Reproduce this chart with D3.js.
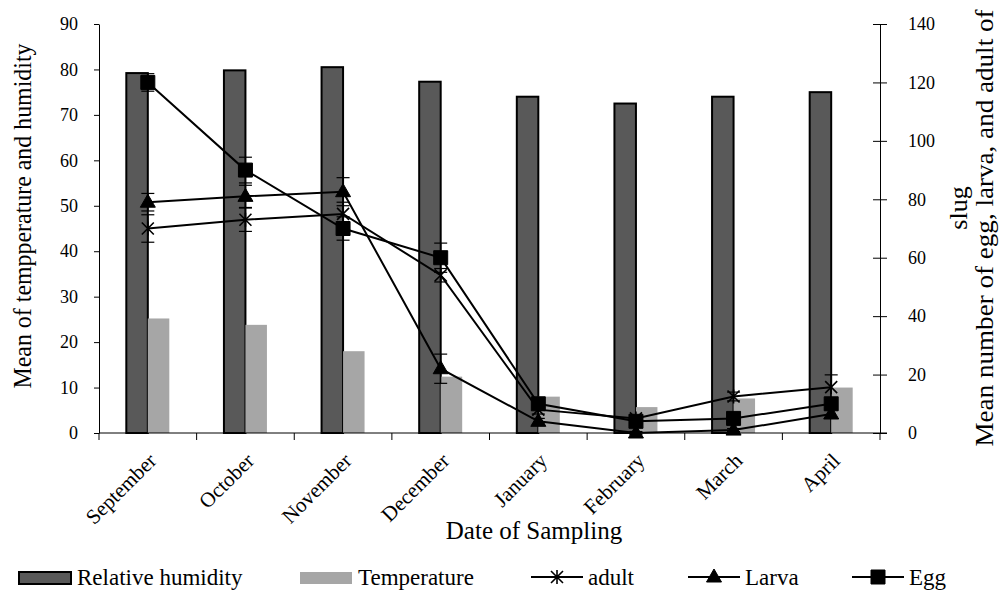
<!DOCTYPE html>
<html>
<head>
<meta charset="utf-8">
<script src="https://cdn.jsdelivr.net/npm/d3@7"></script>
<style>
  body { margin: 0; background: #fff; }
</style>
</head>
<body>
<svg id="chart" width="1000" height="592"></svg>
<script>
// values
var months = ["September", "October", "November", "December", "January", "February", "March", "April"];
var humidity = [79.2, 79.8, 80.5, 77.3, 74.0, 72.5, 74.0, 75.0];
var temperature = [25.2, 23.8, 18.0, 12.4, 8.0, 5.7, 7.6, 10.0];
var adult = [70, 73, 75, 54, 8, 5, 12.5, 15.7];
var adultErr = [4.7, 4, 4, 2.3, 1.5, 1, 1.5, 4.2];
var larva = [79, 81, 82.6, 22, 4, 0, 1, 6.5];
var larvaErr = [3, 3.8, 4.8, 5, 1, 0.5, 0.5, 1.5];
var egg = [120, 90, 70, 60, 10, 4, 5, 10];
var eggErr = [3, 4.4, 4, 5, 1, 1, 1, 1.5];
var leftTicks = [0, 10, 20, 30, 40, 50, 60, 70, 80, 90];
var rightTicks = [0, 20, 40, 60, 80, 100, 120, 140];

var FONT = "Liberation Serif";

var svg = d3.select("#chart");

var x = d3.scaleBand().domain(months).range([99, 880]).padding(0);
var barW = 21.5;
var yL = d3.scaleLinear().domain([0, 90]).range([433, 24]);
var yR = d3.scaleLinear().domain([0, 140]).range([433, 24]);

function cx(m) { return x(m) + x.bandwidth() / 2; }

// bars
svg.append("g").selectAll("rect")
    .data(months)
  .enter().append("rect")
    .attr("x", function(m) { return cx(m) - barW; })
    .attr("y", function(m, i) { return yL(humidity[i]); })
    .attr("width", barW)
    .attr("height", function(m, i) { return yL(0) - yL(humidity[i]); })
    .attr("fill", "#595959")
    .attr("stroke", "#000")
    .attr("stroke-width", 2);

svg.append("g").selectAll("rect")
    .data(months)
  .enter().append("rect")
    .attr("x", function(m) { return cx(m); })
    .attr("y", function(m, i) { return yL(temperature[i]); })
    .attr("width", barW)
    .attr("height", function(m, i) { return yL(0) - yL(temperature[i]); })
    .attr("fill", "#a6a6a6");

// left axis
var gL = svg.append("g").attr("transform", "translate(99,0)")
    .call(d3.axisLeft(yL).tickValues(leftTicks).tickSize(5).tickSizeOuter(0).tickPadding(16));

// right axis, ticks cross the line
var gR = svg.append("g").attr("transform", "translate(880,0)")
    .call(d3.axisRight(yR).tickValues(rightTicks).tickSize(7).tickSizeOuter(0).tickPadding(21));
gR.selectAll(".tick line").attr("x1", -7).attr("x2", 7);

svg.selectAll(".domain").attr("stroke", "#000");
svg.selectAll(".tick line").attr("stroke", "#000");
svg.selectAll(".tick text").style("font-family", FONT).style("font-size", "18px");

// x axis
var gx = svg.append("g");
gx.append("line")
    .attr("x1", 99).attr("x2", 887).attr("y1", 433).attr("y2", 433)
    .attr("stroke", "#000");
gx.selectAll("line.tk")
    .data(months.concat(["end"]))
  .enter().append("line")
    .attr("class", "tk")
    .attr("x1", function(m, i) { return i < months.length ? x(m) : x.range()[1]; })
    .attr("x2", function(m, i) { return i < months.length ? x(m) : x.range()[1]; })
    .attr("y1", 433).attr("y2", 440)
    .attr("stroke", "#000");
gx.selectAll("text")
    .data(months)
  .enter().append("text")
    .attr("transform", function(m) { return "translate(" + (cx(m) + 10) + ",462) rotate(-45)"; })
    .attr("text-anchor", "end")
    .style("font-family", FONT)
    .style("font-size", "21px")
    .text(function(m) { return m; });

// axis titles
svg.append("text")
    .attr("transform", "translate(31,216) rotate(-90)")
    .attr("text-anchor", "middle")
    .style("font-family", FONT)
    .style("font-size", "25px")
    .attr("textLength", 345)
    .attr("lengthAdjust", "spacingAndGlyphs")
    .text("Mean of tempperature and humidity");

svg.append("text")
    .attr("transform", "translate(993,228) rotate(-90)")
    .attr("text-anchor", "middle")
    .style("font-family", FONT)
    .style("font-size", "26px")
    .attr("textLength", 437)
    .attr("lengthAdjust", "spacingAndGlyphs")
    .text("Mean number of egg, larva, and adult of");

svg.append("text")
    .attr("transform", "translate(967,208) rotate(-90)")
    .attr("text-anchor", "middle")
    .style("font-family", FONT)
    .style("font-size", "26px")
    .text("slug");

svg.append("text")
    .attr("x", 534).attr("y", 539)
    .attr("text-anchor", "middle")
    .style("font-family", FONT)
    .style("font-size", "25px")
    .text("Date of Sampling");

// marker shapes
function markerPath(kind) {
  if (kind === "star") return "M-6,-6L6,6M-6,6L6,-6M0,-7L0,7";
  if (kind === "tri") return "M0,-8L7.5,5L-7.5,5Z";
  return "M-7,-7H7V7H-7Z";
}

var series = [
  { name: "adult", vals: adult, err: adultErr, kind: "star" },
  { name: "Larva", vals: larva, err: larvaErr, kind: "tri" },
  { name: "Egg", vals: egg, err: eggErr, kind: "sq" }
];

var line = d3.line()
    .x(function(d, i) { return cx(months[i]); })
    .y(function(d) { return yR(d); });

series.forEach(function(s) {
  var g = svg.append("g");
  // error bars
  var eb = g.selectAll("g.err")
      .data(s.vals)
    .enter().append("g")
      .attr("class", "err")
      .attr("stroke", "#000")
      .attr("stroke-width", 1.2);
  eb.append("line")
      .attr("x1", function(d, i) { return cx(months[i]); })
      .attr("x2", function(d, i) { return cx(months[i]); })
      .attr("y1", function(d, i) { return yR(d - s.err[i]); })
      .attr("y2", function(d, i) { return yR(d + s.err[i]); });
  [-1, 1].forEach(function(sign) {
    eb.append("line")
        .attr("x1", function(d, i) { return cx(months[i]) - 6.5; })
        .attr("x2", function(d, i) { return cx(months[i]) + 6.5; })
        .attr("y1", function(d, i) { return yR(d + sign * s.err[i]); })
        .attr("y2", function(d, i) { return yR(d + sign * s.err[i]); });
  });

  g.append("path")
      .datum(s.vals)
      .attr("d", line)
      .attr("fill", "none")
      .attr("stroke", "#000")
      .attr("stroke-width", 2);

  g.selectAll("path.mk")
      .data(s.vals)
    .enter().append("path")
      .attr("class", "mk")
      .attr("transform", function(d, i) { return "translate(" + cx(months[i]) + "," + yR(d) + ")"; })
      .attr("d", markerPath(s.kind))
      .attr("fill", "#000")
      .attr("stroke", "#000")
      .attr("stroke-width", s.kind === "star" ? 1.6 : 1);
});

// legend
var lg = svg.append("g");
lg.append("rect").attr("x", 19).attr("y", 572).attr("width", 52).attr("height", 12)
    .attr("fill", "#595959").attr("stroke", "#000").attr("stroke-width", 2);
lg.append("text").attr("x", 77).attr("y", 585).text("Relative humidity");
lg.append("rect").attr("x", 300).attr("y", 572).attr("width", 52).attr("height", 12)
    .attr("fill", "#a6a6a6");
lg.append("text").attr("x", 358).attr("y", 585).text("Temperature");

var legX = [531, 688, 852];
series.forEach(function(s, k) {
  var x0 = legX[k];
  lg.append("line").attr("x1", x0).attr("x2", x0 + 52).attr("y1", 577).attr("y2", 577)
      .attr("stroke", "#000").attr("stroke-width", 2);
  lg.append("path").attr("transform", "translate(" + (x0 + 26) + ",577)")
      .attr("d", markerPath(s.kind))
      .attr("fill", "#000").attr("stroke", "#000")
      .attr("stroke-width", s.kind === "star" ? 1.6 : 1);
  lg.append("text").attr("x", x0 + 57).attr("y", 585).text(s.name);
});
lg.selectAll("text").style("font-family", FONT).style("font-size", "23px");
</script>
</body>
</html>
